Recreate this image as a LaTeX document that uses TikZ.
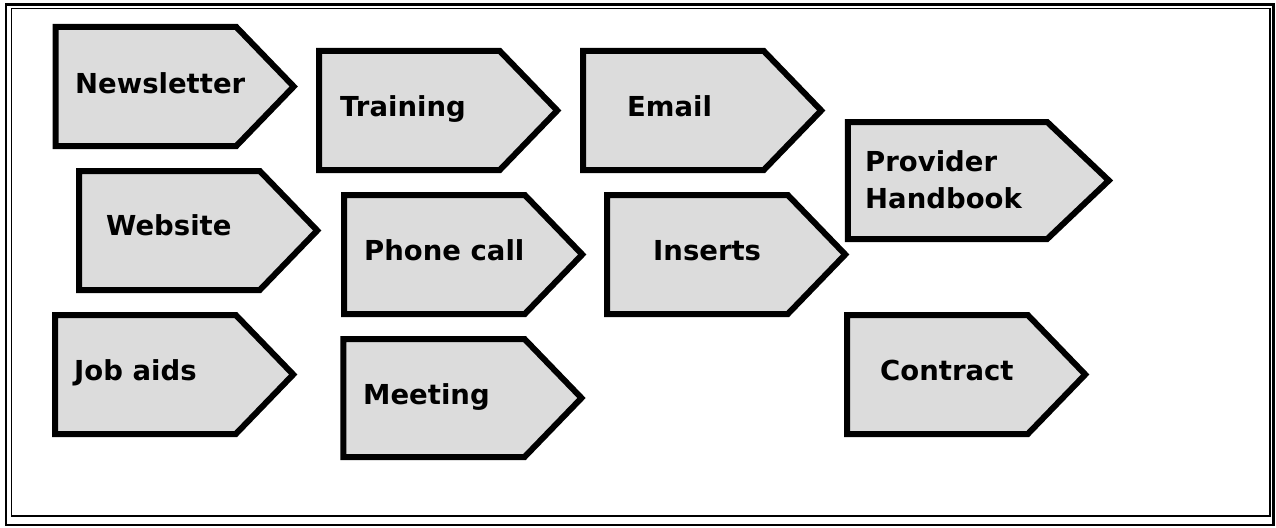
\documentclass[tikz,border=0pt]{standalone}
\usepackage{fontspec}
\setmainfont{DejaVu Sans}
\usetikzlibrary{shapes.symbols}
\definecolor{tagfill}{RGB}{220,220,220}

\begin{document}
\begin{tikzpicture}[x=1pt,y=-1pt,tag/.style={signal,signal to=east,signal pointer angle=92,draw,fill=tagfill,line width=6pt,minimum width=238pt,minimum height=119pt,inner sep=0pt,outer sep=0pt},word/.style={anchor=base west,inner sep=0pt,align=left,font=\bfseries\fontsize{27.5}{37}\selectfont}]
            \useasboundingbox (0,0) rectangle (1276,527);
            % frame
            \draw[line width=2.5pt] (6,4.5) rectangle (1273.5,525);
            \draw[line width=1.3pt] (11.5,8.5) rectangle (1270,516);

            \node[tag] (1) at (146,86.5) {};
            \node[tag] (2) at (409.5,110.5) {};
            \node[tag] (3) at (673.5,110.5) {};
            \node[tag,minimum width=261pt,minimum height=117pt,signal pointer angle=87] (4) at (947.5,180.5) {};
            \node[tag] (5) at (169.5,230.5) {};
            \node[tag] (6) at (434.5,254.5) {};
            \node[tag] (7) at (697.5,254.5) {};
            \node[tag] (8) at (145.5,374.5) {};
            \node[tag,minimum height=118pt] (9) at (434,398) {};
            \node[tag] (10) at (937.5,374.5) {};

            \node[word] (l1) at (75,93) {Newsletter};
            \node[word] (l2) at (340,116) {Training};
            \node[word] (l3) at (627,116) {Email};
            \node[word] (l4) at (865,208) {Provider\\Handbook};
            \node[word] (l5) at (106,235) {Website};
            \node[word] (l6) at (364,260) {Phone call};
            \node[word] (l7) at (653,260) {Inserts};
            \node[word] (l8) at (74,380) {Job aids};
            \node[word] (l9) at (363,404) {Meeting};
            \node[word] (l10) at (880,380) {Contract};
        \end{tikzpicture}
\end{document}
